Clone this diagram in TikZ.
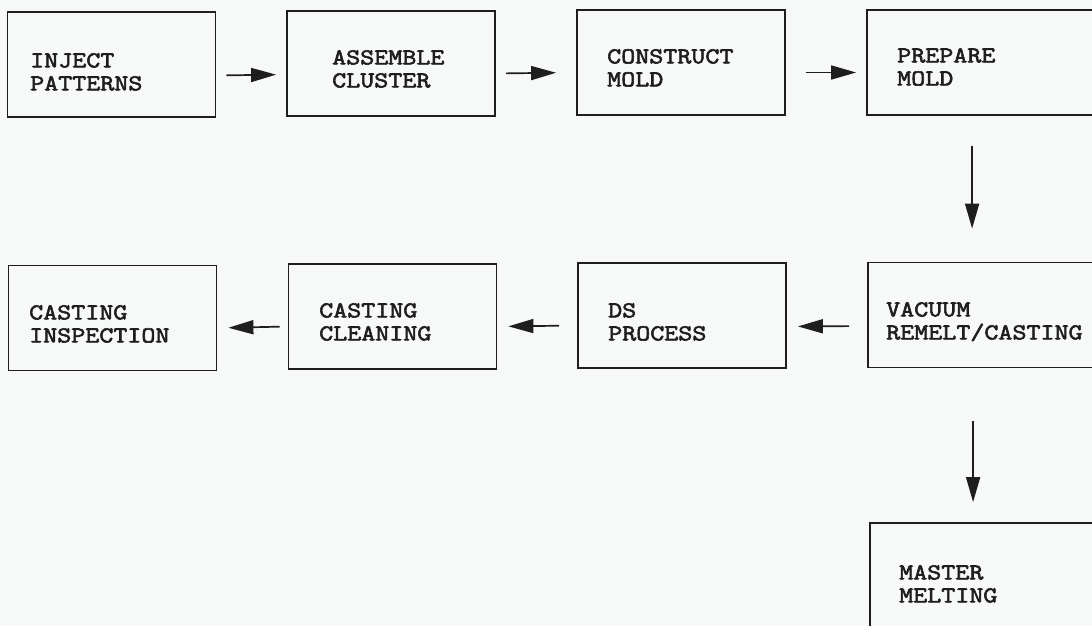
\documentclass[tikz,border=0pt]{standalone}
\usepackage{fontspec}
\newfontfamily\stagefont[FakeStretch=1.2, FakeBold=2.6]{Latin Modern Mono}
\usetikzlibrary{arrows.meta}
\definecolor{paper}{RGB}{247,248,248}
\definecolor{ink}{RGB}{30,30,30}
\tikzset{
  stage/.style={draw=ink, line width=1.8pt, minimum width=208pt, minimum height=105pt, inner sep=0pt},
  wide/.style={minimum width=240pt},
  caption/.style={anchor=north west, inner sep=0pt, align=left, text=ink,
    font=\stagefont\fontsize{22.7}{23}\selectfont},
  flow/.style={draw=ink, line width=1.7pt, -{Triangle[length=25pt,width=14pt]}}
}
\begin{document}
\begin{tikzpicture}[x=1pt,y=-1pt]
      \useasboundingbox (0,0) rectangle (1092,626);
      \clip (0,0) rectangle (1092,626);
      \fill[paper] (0,0) rectangle (1092,626);

      % first row
      \node[stage] (inject)    at (111.5,64.5) {};
      \node[stage] (assemble)  at (391,63.5) {};
      \node[stage] (construct) at (681,62.5) {};
      \node[stage,wide] (prepare) at (987,62.5) {};

      % second row
      \node[stage,wide] (vacuum) at (988,315) {};
      \node[stage] (ds)        at (682,315.5) {};
      \node[stage] (cleaning)  at (392.5,316.5) {};
      \node[stage] (inspection) at (112.5,318) {};

      \node[stage,wide] (master) at (990,575.5) {};

      \node[caption] (inject-t)    at (30,53)   {INJECT\\PATTERNS};
      \node[caption] (assemble-t)  at (332,50)  {ASSEMBLE\\CLUSTER};
      \node[caption] (construct-t) at (607,49)  {CONSTRUCT\\MOLD};
      \node[caption] (prepare-t)   at (897,48)  {PREPARE\\MOLD};
      \node[caption] (vacuum-t)    at (886,302) {VACUUM\\REMELT/CASTING};
      \node[caption] (ds-t)        at (608,303) {DS\\PROCESS};
      \node[caption] (cleaning-t)  at (319,303) {CASTING\\CLEANING};
      \node[caption] (inspection-t) at (29,305) {CASTING\\INSPECTION};
      \node[caption] (master-t)    at (899,565) {MASTER\\MELTING};

      \draw[flow, shorten <=10pt, shorten >=10pt] ([yshift=-11pt]inject.east) -- ([yshift=-11pt]assemble.west);
      \draw[flow, shorten <=10pt, shorten >=20pt] ([yshift=-10pt]assemble.east) -- ([yshift=-10pt]construct.west);
      \draw[flow, shorten <=20pt, shorten >=10pt] ([yshift=-10pt]construct.east) -- ([yshift=-10pt]prepare.west);
      \draw[flow, shorten <=30pt, shorten >=33pt] ([xshift=106pt]prepare.south west) -- ([xshift=105pt]vacuum.north west);
      \draw[flow, shorten <=18pt, shorten >=11pt] ([yshift=-11pt]vacuum.west) -- ([yshift=-11pt]ds.east);
      \draw[flow, shorten <=18pt, shorten >=11pt] ([yshift=-10pt]ds.west) -- ([yshift=-10pt]cleaning.east);
      \draw[flow, shorten <=8pt, shorten >=11pt] ([yshift=-10pt]cleaning.west) -- ([yshift=-10pt]inspection.east);
      \draw[flow, shorten <=53pt, shorten >=20pt] ([xshift=106pt]vacuum.south west) -- ([xshift=104pt]master.north west);
    \end{tikzpicture}
\end{document}
